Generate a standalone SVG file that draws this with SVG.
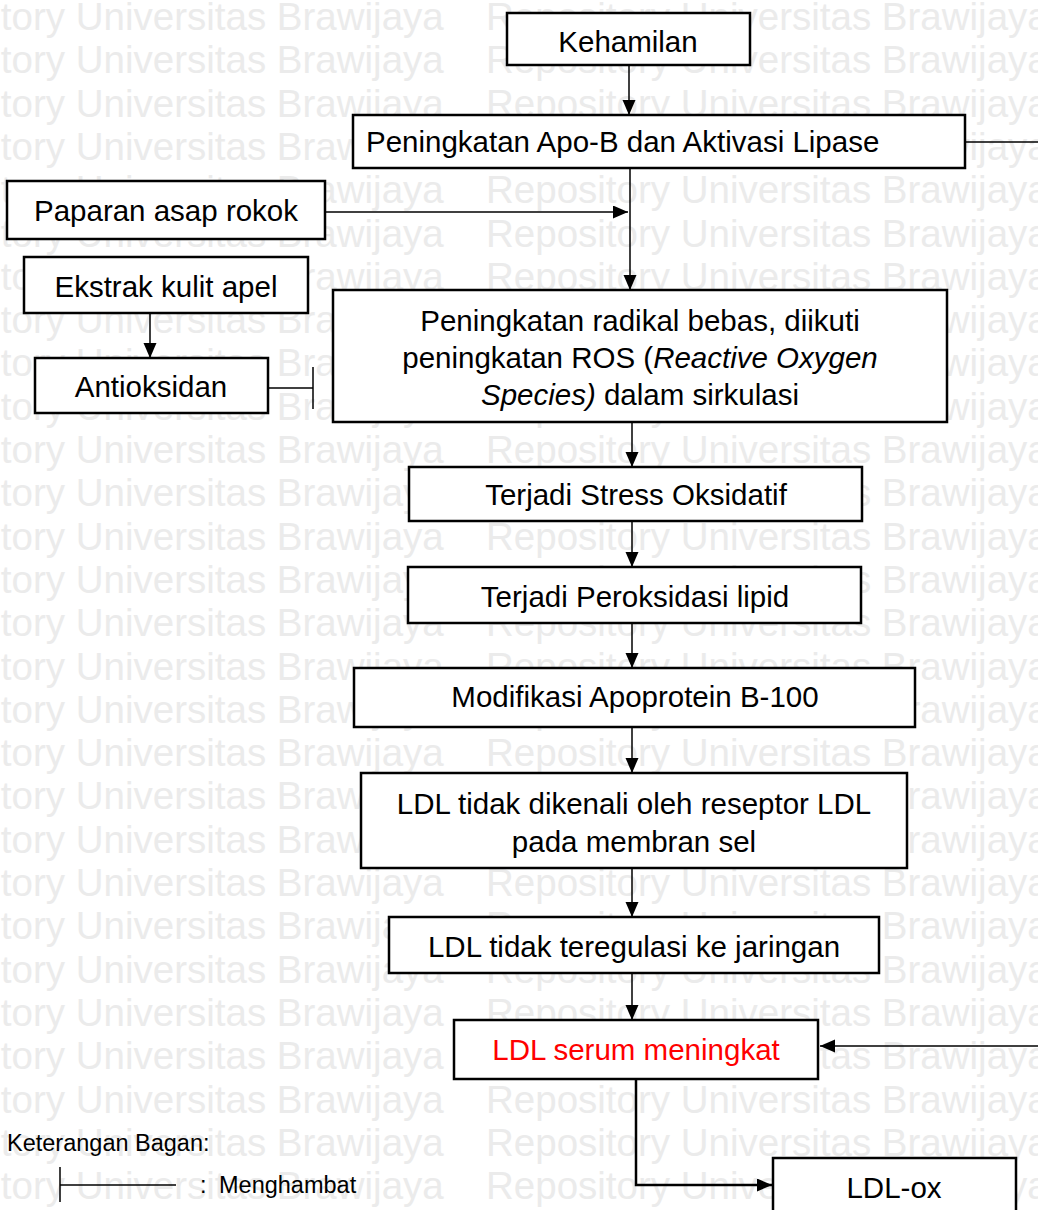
<svg xmlns="http://www.w3.org/2000/svg" width="1038" height="1210" viewBox="0 0 1038 1210">
<style>
.wm{font-family:"Liberation Sans",Arial,sans-serif;font-size:38.5px;fill:#ebebeb}
.box{fill:#fff;stroke:#000;stroke-width:2.5}
.t{font-family:"Liberation Sans",Arial,sans-serif;font-size:29.5px;fill:#000}
.c{text-anchor:middle}
.lg{font-family:"Liberation Sans",Arial,sans-serif;font-size:23.5px;fill:#000}
.ln{fill:none;stroke:#000;stroke-width:1.5}
.lnb{fill:none;stroke:#000;stroke-width:2.5}
</style>
<defs>
<marker id="ah" markerUnits="userSpaceOnUse" markerWidth="16" markerHeight="14" refX="15" refY="6.5" orient="auto" viewBox="0 0 16 14">
<path d="M0,0 L15,6.5 L0,13 Z" fill="#000"/>
</marker>
</defs>
<rect width="1038" height="1210" fill="#fff"/>
<g id="watermark" class="wm">
<text y="30"><tspan x="-119">Repository Universitas Brawijaya</tspan><tspan x="486">Repository Universitas Brawijaya</tspan></text>
<text y="73.3"><tspan x="-119">Repository Universitas Brawijaya</tspan><tspan x="486">Repository Universitas Brawijaya</tspan></text>
<text y="116.6"><tspan x="-119">Repository Universitas Brawijaya</tspan><tspan x="486">Repository Universitas Brawijaya</tspan></text>
<text y="159.9"><tspan x="-119">Repository Universitas Brawijaya</tspan><tspan x="486">Repository Universitas Brawijaya</tspan></text>
<text y="203.2"><tspan x="-119">Repository Universitas Brawijaya</tspan><tspan x="486">Repository Universitas Brawijaya</tspan></text>
<text y="246.5"><tspan x="-119">Repository Universitas Brawijaya</tspan><tspan x="486">Repository Universitas Brawijaya</tspan></text>
<text y="289.8"><tspan x="-119">Repository Universitas Brawijaya</tspan><tspan x="486">Repository Universitas Brawijaya</tspan></text>
<text y="333.1"><tspan x="-119">Repository Universitas Brawijaya</tspan><tspan x="486">Repository Universitas Brawijaya</tspan></text>
<text y="376.4"><tspan x="-119">Repository Universitas Brawijaya</tspan><tspan x="486">Repository Universitas Brawijaya</tspan></text>
<text y="419.7"><tspan x="-119">Repository Universitas Brawijaya</tspan><tspan x="486">Repository Universitas Brawijaya</tspan></text>
<text y="463"><tspan x="-119">Repository Universitas Brawijaya</tspan><tspan x="486">Repository Universitas Brawijaya</tspan></text>
<text y="506.3"><tspan x="-119">Repository Universitas Brawijaya</tspan><tspan x="486">Repository Universitas Brawijaya</tspan></text>
<text y="549.6"><tspan x="-119">Repository Universitas Brawijaya</tspan><tspan x="486">Repository Universitas Brawijaya</tspan></text>
<text y="592.9"><tspan x="-119">Repository Universitas Brawijaya</tspan><tspan x="486">Repository Universitas Brawijaya</tspan></text>
<text y="636.2"><tspan x="-119">Repository Universitas Brawijaya</tspan><tspan x="486">Repository Universitas Brawijaya</tspan></text>
<text y="679.5"><tspan x="-119">Repository Universitas Brawijaya</tspan><tspan x="486">Repository Universitas Brawijaya</tspan></text>
<text y="722.8"><tspan x="-119">Repository Universitas Brawijaya</tspan><tspan x="486">Repository Universitas Brawijaya</tspan></text>
<text y="766.1"><tspan x="-119">Repository Universitas Brawijaya</tspan><tspan x="486">Repository Universitas Brawijaya</tspan></text>
<text y="809.4"><tspan x="-119">Repository Universitas Brawijaya</tspan><tspan x="486">Repository Universitas Brawijaya</tspan></text>
<text y="852.7"><tspan x="-119">Repository Universitas Brawijaya</tspan><tspan x="486">Repository Universitas Brawijaya</tspan></text>
<text y="896"><tspan x="-119">Repository Universitas Brawijaya</tspan><tspan x="486">Repository Universitas Brawijaya</tspan></text>
<text y="939.3"><tspan x="-119">Repository Universitas Brawijaya</tspan><tspan x="486">Repository Universitas Brawijaya</tspan></text>
<text y="982.6"><tspan x="-119">Repository Universitas Brawijaya</tspan><tspan x="486">Repository Universitas Brawijaya</tspan></text>
<text y="1025.9"><tspan x="-119">Repository Universitas Brawijaya</tspan><tspan x="486">Repository Universitas Brawijaya</tspan></text>
<text y="1069.2"><tspan x="-119">Repository Universitas Brawijaya</tspan><tspan x="486">Repository Universitas Brawijaya</tspan></text>
<text y="1112.5"><tspan x="-119">Repository Universitas Brawijaya</tspan><tspan x="486">Repository Universitas Brawijaya</tspan></text>
<text y="1155.8"><tspan x="-119">Repository Universitas Brawijaya</tspan><tspan x="486">Repository Universitas Brawijaya</tspan></text>
<text y="1199.1"><tspan x="-119">Repository Universitas Brawijaya</tspan><tspan x="486">Repository Universitas Brawijaya</tspan></text>
</g>
<g id="connectors">
<line class="ln" x1="629" y1="65" x2="629" y2="115" marker-end="url(#ah)"/>
<line class="ln" x1="630" y1="168" x2="630" y2="290" marker-end="url(#ah)"/>
<line class="ln" x1="325" y1="212" x2="628" y2="212" marker-end="url(#ah)"/>
<line class="ln" x1="150" y1="313" x2="150" y2="358" marker-end="url(#ah)"/>
<line class="ln" x1="268" y1="388" x2="313" y2="388"/>
<line class="ln" x1="313" y1="367" x2="313" y2="409"/>
<line class="ln" x1="965" y1="142" x2="1040" y2="142"/>
<line class="ln" x1="632" y1="422" x2="632" y2="467" marker-end="url(#ah)"/>
<line class="ln" x1="632" y1="521" x2="632" y2="567" marker-end="url(#ah)"/>
<line class="ln" x1="632" y1="623" x2="632" y2="668" marker-end="url(#ah)"/>
<line class="ln" x1="632" y1="727" x2="632" y2="773" marker-end="url(#ah)"/>
<line class="ln" x1="632" y1="868" x2="632" y2="917" marker-end="url(#ah)"/>
<line class="ln" x1="632" y1="973" x2="632" y2="1020" marker-end="url(#ah)"/>
<line class="ln" x1="1040" y1="1046" x2="820" y2="1046" marker-end="url(#ah)"/>
<polyline class="lnb" points="636,1079 636,1185 772,1185" marker-end="url(#ah)"/>
</g>
<g id="n-kehamilan"><rect class="box" x="507" y="13" width="243" height="52"/><text class="t c" x="628" y="52">Kehamilan</text></g>
<g id="n-apob"><rect class="box" x="353" y="115" width="612" height="53"/><text class="t" x="366" y="152">Peningkatan Apo-B dan Aktivasi Lipase</text></g>
<g id="n-paparan"><rect class="box" x="7" y="181" width="318" height="58"/><text class="t c" x="166" y="221">Paparan asap rokok</text></g>
<g id="n-ekstrak"><rect class="box" x="24" y="257" width="284" height="56"/><text class="t c" x="166" y="297">Ekstrak kulit apel</text></g>
<g id="n-antioksidan"><rect class="box" x="35" y="358" width="233" height="55"/><text class="t c" x="151" y="397">Antioksidan</text></g>
<g id="n-radikal"><rect class="box" x="333" y="290" width="614" height="132"/>
<text class="t c" x="640" y="331">Peningkatan radikal bebas, diikuti</text>
<text class="t c" x="640" y="368">peningkatan ROS (<tspan font-style="italic">Reactive Oxygen</tspan></text>
<text class="t c" x="640" y="405"><tspan font-style="italic">Species)</tspan> dalam sirkulasi</text></g>
<g id="n-stress"><rect class="box" x="409" y="467" width="453" height="54"/><text class="t c" x="636" y="505">Terjadi Stress Oksidatif</text></g>
<g id="n-peroksidasi"><rect class="box" x="408" y="567" width="453" height="56"/><text class="t c" x="635" y="607">Terjadi Peroksidasi lipid</text></g>
<g id="n-modifikasi"><rect class="box" x="354" y="668" width="561" height="59"/><text class="t c" x="635" y="707">Modifikasi Apoprotein B-100</text></g>
<g id="n-dikenali"><rect class="box" x="361" y="773" width="546" height="95"/>
<text class="t c" x="634" y="814">LDL tidak dikenali oleh reseptor LDL</text>
<text class="t c" x="634" y="852">pada membran sel</text></g>
<g id="n-teregulasi"><rect class="box" x="389" y="917" width="490" height="56"/><text class="t c" x="634" y="957">LDL tidak teregulasi ke jaringan</text></g>
<g id="n-serum"><rect class="box" x="454" y="1020" width="364" height="59"/><text class="t c" x="636" y="1060" style="fill:#ff0000">LDL serum meningkat</text></g>
<g id="n-ldlox"><rect class="box" x="773" y="1158" width="243" height="60"/><text class="t c" x="894" y="1198">LDL-ox</text></g>
<g id="legend">
<text class="lg" x="7" y="1151">Keterangan Bagan:</text>
<line class="ln" x1="60" y1="1167" x2="60" y2="1202"/>
<line class="ln" x1="60" y1="1185" x2="176" y2="1185"/>
<text class="lg" x="200" y="1193">:</text>
<text class="lg" x="219" y="1193">Menghambat</text>
</g>
</svg>
